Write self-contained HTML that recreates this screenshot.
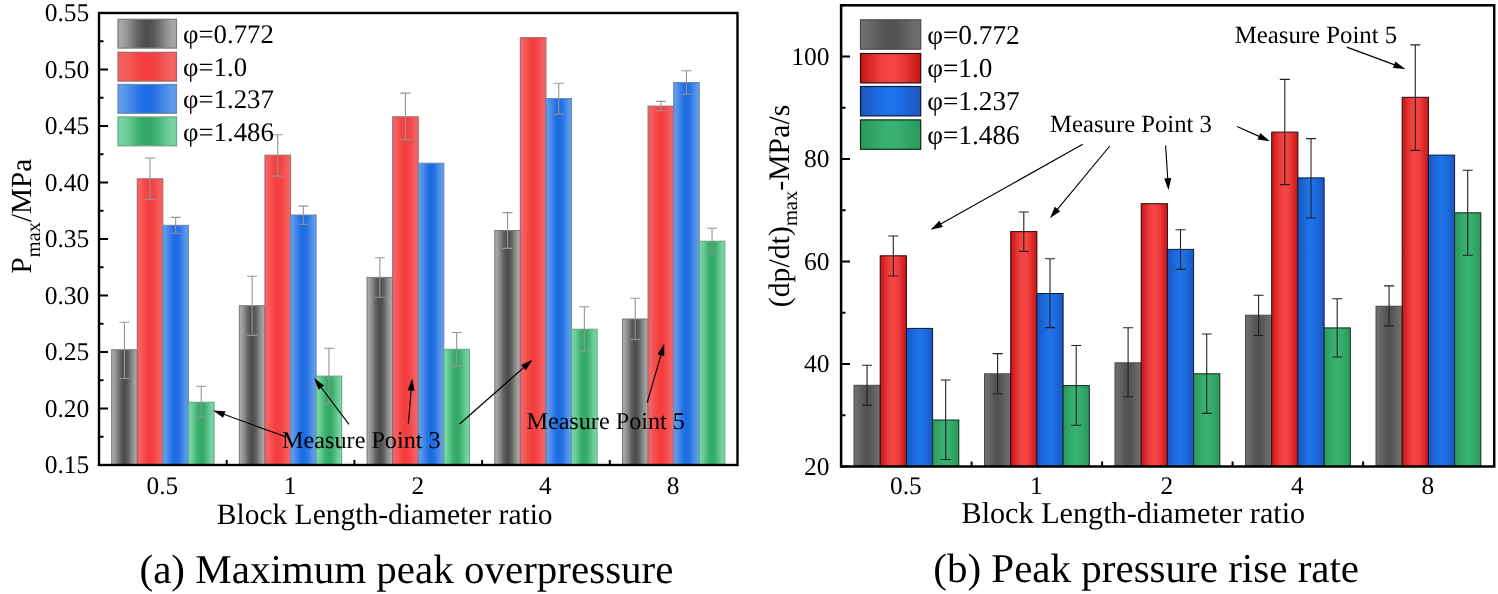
<!DOCTYPE html>
<html><head><meta charset="utf-8"><style>
html,body{margin:0;padding:0;background:#fff;}
body{width:1498px;height:594px;overflow:hidden;font-family:"Liberation Serif",serif;}
svg{display:block;will-change:transform;}
text{text-rendering:geometricPrecision;}
</style></head><body>
<svg width="1498" height="594" viewBox="0 0 1498 594">
<defs><linearGradient id="lg" x1="0" x2="1" y1="0" y2="0"><stop offset="0.000" stop-color="#a8a8a8"/><stop offset="0.050" stop-color="#a6a6a6"/><stop offset="0.100" stop-color="#9f9f9f"/><stop offset="0.150" stop-color="#959595"/><stop offset="0.200" stop-color="#898989"/><stop offset="0.250" stop-color="#7b7b7b"/><stop offset="0.300" stop-color="#6d6d6d"/><stop offset="0.350" stop-color="#616161"/><stop offset="0.400" stop-color="#575757"/><stop offset="0.450" stop-color="#505050"/><stop offset="0.500" stop-color="#4e4e4e"/><stop offset="0.550" stop-color="#505050"/><stop offset="0.600" stop-color="#575757"/><stop offset="0.650" stop-color="#616161"/><stop offset="0.700" stop-color="#6d6d6d"/><stop offset="0.750" stop-color="#7b7b7b"/><stop offset="0.800" stop-color="#898989"/><stop offset="0.850" stop-color="#959595"/><stop offset="0.900" stop-color="#9f9f9f"/><stop offset="0.950" stop-color="#a6a6a6"/><stop offset="1.000" stop-color="#a8a8a8"/></linearGradient><linearGradient id="lr" x1="0" x2="1" y1="0" y2="0"><stop offset="0.000" stop-color="#f56262"/><stop offset="0.050" stop-color="#f56161"/><stop offset="0.100" stop-color="#f55f5f"/><stop offset="0.150" stop-color="#f55b5b"/><stop offset="0.200" stop-color="#f55656"/><stop offset="0.250" stop-color="#f45050"/><stop offset="0.300" stop-color="#f44a4a"/><stop offset="0.350" stop-color="#f44545"/><stop offset="0.400" stop-color="#f44141"/><stop offset="0.450" stop-color="#f43f3f"/><stop offset="0.500" stop-color="#f43e3e"/><stop offset="0.550" stop-color="#f43f3f"/><stop offset="0.600" stop-color="#f44141"/><stop offset="0.650" stop-color="#f44545"/><stop offset="0.700" stop-color="#f44a4a"/><stop offset="0.750" stop-color="#f45050"/><stop offset="0.800" stop-color="#f55656"/><stop offset="0.850" stop-color="#f55b5b"/><stop offset="0.900" stop-color="#f55f5f"/><stop offset="0.950" stop-color="#f56161"/><stop offset="1.000" stop-color="#f56262"/></linearGradient><linearGradient id="lb" x1="0" x2="1" y1="0" y2="0"><stop offset="0.000" stop-color="#5e9cec"/><stop offset="0.050" stop-color="#5c9bec"/><stop offset="0.100" stop-color="#5897eb"/><stop offset="0.150" stop-color="#5092ea"/><stop offset="0.200" stop-color="#478be9"/><stop offset="0.250" stop-color="#3d84e7"/><stop offset="0.300" stop-color="#337ce5"/><stop offset="0.350" stop-color="#2a75e4"/><stop offset="0.400" stop-color="#2270e3"/><stop offset="0.450" stop-color="#1e6ce2"/><stop offset="0.500" stop-color="#1c6be2"/><stop offset="0.550" stop-color="#1e6ce2"/><stop offset="0.600" stop-color="#2270e3"/><stop offset="0.650" stop-color="#2a75e4"/><stop offset="0.700" stop-color="#337ce5"/><stop offset="0.750" stop-color="#3d84e7"/><stop offset="0.800" stop-color="#478be9"/><stop offset="0.850" stop-color="#5092ea"/><stop offset="0.900" stop-color="#5897eb"/><stop offset="0.950" stop-color="#5c9bec"/><stop offset="1.000" stop-color="#5e9cec"/></linearGradient><linearGradient id="lgr" x1="0" x2="1" y1="0" y2="0"><stop offset="0.000" stop-color="#78d6a4"/><stop offset="0.050" stop-color="#76d5a2"/><stop offset="0.100" stop-color="#71d29e"/><stop offset="0.150" stop-color="#6acd97"/><stop offset="0.200" stop-color="#60c68e"/><stop offset="0.250" stop-color="#56bf84"/><stop offset="0.300" stop-color="#4bb87b"/><stop offset="0.350" stop-color="#41b172"/><stop offset="0.400" stop-color="#3aac6b"/><stop offset="0.450" stop-color="#35a967"/><stop offset="0.500" stop-color="#33a865"/><stop offset="0.550" stop-color="#35a967"/><stop offset="0.600" stop-color="#3aac6b"/><stop offset="0.650" stop-color="#41b172"/><stop offset="0.700" stop-color="#4bb87b"/><stop offset="0.750" stop-color="#56bf84"/><stop offset="0.800" stop-color="#60c68e"/><stop offset="0.850" stop-color="#6acd97"/><stop offset="0.900" stop-color="#71d29e"/><stop offset="0.950" stop-color="#76d5a2"/><stop offset="1.000" stop-color="#78d6a4"/></linearGradient><linearGradient id="rg" x1="0" x2="1" y1="0" y2="0"><stop offset="0.000" stop-color="#6e6e6e"/><stop offset="0.050" stop-color="#6d6d6d"/><stop offset="0.100" stop-color="#6b6b6b"/><stop offset="0.150" stop-color="#686868"/><stop offset="0.200" stop-color="#646464"/><stop offset="0.250" stop-color="#606060"/><stop offset="0.300" stop-color="#5c5c5c"/><stop offset="0.350" stop-color="#585858"/><stop offset="0.400" stop-color="#555555"/><stop offset="0.450" stop-color="#535353"/><stop offset="0.500" stop-color="#525252"/><stop offset="0.550" stop-color="#535353"/><stop offset="0.600" stop-color="#555555"/><stop offset="0.650" stop-color="#585858"/><stop offset="0.700" stop-color="#5c5c5c"/><stop offset="0.750" stop-color="#606060"/><stop offset="0.800" stop-color="#646464"/><stop offset="0.850" stop-color="#686868"/><stop offset="0.900" stop-color="#6b6b6b"/><stop offset="0.950" stop-color="#6d6d6d"/><stop offset="1.000" stop-color="#6e6e6e"/></linearGradient><linearGradient id="rr" x1="0" x2="1" y1="0" y2="0"><stop offset="0.000" stop-color="#c81616"/><stop offset="0.050" stop-color="#cd1b1b"/><stop offset="0.100" stop-color="#d32121"/><stop offset="0.150" stop-color="#d92828"/><stop offset="0.200" stop-color="#e02e2e"/><stop offset="0.250" stop-color="#e63434"/><stop offset="0.300" stop-color="#eb3a3a"/><stop offset="0.350" stop-color="#ef3e3e"/><stop offset="0.400" stop-color="#f24141"/><stop offset="0.450" stop-color="#f44343"/><stop offset="0.500" stop-color="#f54444"/><stop offset="0.550" stop-color="#f44343"/><stop offset="0.600" stop-color="#f24141"/><stop offset="0.650" stop-color="#ef3e3e"/><stop offset="0.700" stop-color="#eb3a3a"/><stop offset="0.750" stop-color="#e63434"/><stop offset="0.800" stop-color="#e02e2e"/><stop offset="0.850" stop-color="#d92828"/><stop offset="0.900" stop-color="#d32121"/><stop offset="0.950" stop-color="#cd1b1b"/><stop offset="1.000" stop-color="#c81616"/></linearGradient><linearGradient id="rb" x1="0" x2="1" y1="0" y2="0"><stop offset="0.000" stop-color="#1a58c2"/><stop offset="0.050" stop-color="#1a5ac5"/><stop offset="0.100" stop-color="#1b5dc9"/><stop offset="0.150" stop-color="#1b61cf"/><stop offset="0.200" stop-color="#1b64d4"/><stop offset="0.250" stop-color="#1c68d9"/><stop offset="0.300" stop-color="#1c6bde"/><stop offset="0.350" stop-color="#1d6ee2"/><stop offset="0.400" stop-color="#1d70e5"/><stop offset="0.450" stop-color="#1d72e7"/><stop offset="0.500" stop-color="#1d72e8"/><stop offset="0.550" stop-color="#1d72e7"/><stop offset="0.600" stop-color="#1d70e5"/><stop offset="0.650" stop-color="#1d6ee2"/><stop offset="0.700" stop-color="#1c6bde"/><stop offset="0.750" stop-color="#1c68d9"/><stop offset="0.800" stop-color="#1b64d4"/><stop offset="0.850" stop-color="#1b61cf"/><stop offset="0.900" stop-color="#1b5dc9"/><stop offset="0.950" stop-color="#1a5ac5"/><stop offset="1.000" stop-color="#1a58c2"/></linearGradient><linearGradient id="rgr" x1="0" x2="1" y1="0" y2="0"><stop offset="0.000" stop-color="#2c9b5b"/><stop offset="0.050" stop-color="#2d9c5c"/><stop offset="0.100" stop-color="#2e9f5e"/><stop offset="0.150" stop-color="#2fa261"/><stop offset="0.200" stop-color="#31a564"/><stop offset="0.250" stop-color="#33a868"/><stop offset="0.300" stop-color="#35ab6b"/><stop offset="0.350" stop-color="#36ae6d"/><stop offset="0.400" stop-color="#37b06f"/><stop offset="0.450" stop-color="#38b271"/><stop offset="0.500" stop-color="#38b271"/><stop offset="0.550" stop-color="#38b271"/><stop offset="0.600" stop-color="#37b06f"/><stop offset="0.650" stop-color="#36ae6d"/><stop offset="0.700" stop-color="#35ab6b"/><stop offset="0.750" stop-color="#33a868"/><stop offset="0.800" stop-color="#31a564"/><stop offset="0.850" stop-color="#2fa261"/><stop offset="0.900" stop-color="#2e9f5e"/><stop offset="0.950" stop-color="#2d9c5c"/><stop offset="1.000" stop-color="#2c9b5b"/></linearGradient></defs>
<rect x="0" y="0" width="1498" height="594" fill="#fff"/>
<rect x="111.65" y="349.80" width="25.60" height="115.20" fill="url(#lg)" stroke="#7a7a7a" stroke-width="1"/><rect x="137.25" y="178.80" width="25.60" height="286.20" fill="url(#lr)" stroke="#9a6a6a" stroke-width="1"/><rect x="162.85" y="225.30" width="25.60" height="239.70" fill="url(#lb)" stroke="#6a86aa" stroke-width="1"/><rect x="188.45" y="402.20" width="25.60" height="62.80" fill="url(#lgr)" stroke="#6aa286" stroke-width="1"/><rect x="239.35" y="305.70" width="25.60" height="159.30" fill="url(#lg)" stroke="#7a7a7a" stroke-width="1"/><rect x="264.95" y="155.20" width="25.60" height="309.80" fill="url(#lr)" stroke="#9a6a6a" stroke-width="1"/><rect x="290.55" y="215.00" width="25.60" height="250.00" fill="url(#lb)" stroke="#6a86aa" stroke-width="1"/><rect x="316.15" y="376.10" width="25.60" height="88.90" fill="url(#lgr)" stroke="#6aa286" stroke-width="1"/><rect x="367.05" y="277.40" width="25.60" height="187.60" fill="url(#lg)" stroke="#7a7a7a" stroke-width="1"/><rect x="392.65" y="116.80" width="25.60" height="348.20" fill="url(#lr)" stroke="#9a6a6a" stroke-width="1"/><rect x="418.25" y="163.20" width="25.60" height="301.80" fill="url(#lb)" stroke="#6a86aa" stroke-width="1"/><rect x="443.85" y="349.30" width="25.60" height="115.70" fill="url(#lgr)" stroke="#6aa286" stroke-width="1"/><rect x="494.75" y="230.50" width="25.60" height="234.50" fill="url(#lg)" stroke="#7a7a7a" stroke-width="1"/><rect x="520.35" y="37.70" width="25.60" height="427.30" fill="url(#lr)" stroke="#9a6a6a" stroke-width="1"/><rect x="545.95" y="98.50" width="25.60" height="366.50" fill="url(#lb)" stroke="#6a86aa" stroke-width="1"/><rect x="571.55" y="329.20" width="25.60" height="135.80" fill="url(#lgr)" stroke="#6aa286" stroke-width="1"/><rect x="622.45" y="319.00" width="25.60" height="146.00" fill="url(#lg)" stroke="#7a7a7a" stroke-width="1"/><rect x="648.05" y="106.10" width="25.60" height="358.90" fill="url(#lr)" stroke="#9a6a6a" stroke-width="1"/><rect x="673.65" y="82.50" width="25.60" height="382.50" fill="url(#lb)" stroke="#6a86aa" stroke-width="1"/><rect x="699.25" y="241.20" width="25.60" height="223.80" fill="url(#lgr)" stroke="#6aa286" stroke-width="1"/>
<path d="M124.45 322.20V378.50M119.45 322.20H129.45M119.45 378.50H129.45" stroke="#959595" stroke-width="1.1" fill="none"/><path d="M150.05 158.00V199.40M145.05 158.00H155.05M145.05 199.40H155.05" stroke="#959595" stroke-width="1.1" fill="none"/><path d="M175.65 217.40V233.30M170.65 217.40H180.65M170.65 233.30H180.65" stroke="#959595" stroke-width="1.1" fill="none"/><path d="M201.25 386.30V417.00M196.25 386.30H206.25M196.25 417.00H206.25" stroke="#959595" stroke-width="1.1" fill="none"/><path d="M252.15 276.30V335.40M247.15 276.30H257.15M247.15 335.40H257.15" stroke="#959595" stroke-width="1.1" fill="none"/><path d="M277.75 134.80V176.10M272.75 134.80H282.75M272.75 176.10H282.75" stroke="#959595" stroke-width="1.1" fill="none"/><path d="M303.35 206.10V224.30M298.35 206.10H308.35M298.35 224.30H308.35" stroke="#959595" stroke-width="1.1" fill="none"/><path d="M328.95 348.30V403.50M323.95 348.30H333.95M323.95 403.50H333.95" stroke="#959595" stroke-width="1.1" fill="none"/><path d="M379.85 257.80V297.20M374.85 257.80H384.85M374.85 297.20H384.85" stroke="#959595" stroke-width="1.1" fill="none"/><path d="M405.45 93.10V139.60M400.45 93.10H410.45M400.45 139.60H410.45" stroke="#959595" stroke-width="1.1" fill="none"/><path d="M456.65 332.50V366.10M451.65 332.50H461.65M451.65 366.10H461.65" stroke="#959595" stroke-width="1.1" fill="none"/><path d="M507.55 212.60V248.40M502.55 212.60H512.55M502.55 248.40H512.55" stroke="#959595" stroke-width="1.1" fill="none"/><path d="M558.75 83.20V114.30M553.75 83.20H563.75M553.75 114.30H563.75" stroke="#959595" stroke-width="1.1" fill="none"/><path d="M584.35 306.70V351.70M579.35 306.70H589.35M579.35 351.70H589.35" stroke="#959595" stroke-width="1.1" fill="none"/><path d="M635.25 298.20V339.50M630.25 298.20H640.25M630.25 339.50H640.25" stroke="#959595" stroke-width="1.1" fill="none"/><path d="M660.85 101.40V110.80M655.85 101.40H665.85M655.85 110.80H665.85" stroke="#959595" stroke-width="1.1" fill="none"/><path d="M686.45 70.70V94.30M681.45 70.70H691.45M681.45 94.30H691.45" stroke="#959595" stroke-width="1.1" fill="none"/><path d="M712.05 228.30V254.20M707.05 228.30H717.05M707.05 254.20H717.05" stroke="#959595" stroke-width="1.1" fill="none"/>
<rect x="99" y="13" width="638.5" height="452" fill="none" stroke="#000" stroke-width="2.4"/>
<path d="M99 13.00h9M99 41.25h4.5M99 69.50h9M99 97.75h4.5M99 126.00h9M99 154.25h4.5M99 182.50h9M99 210.75h4.5M99 239.00h9M99 267.25h4.5M99 295.50h9M99 323.75h4.5M99 352.00h9M99 380.25h4.5M99 408.50h9M99 436.75h4.5M99 465.00h9M226.70 465v-5M354.40 465v-5M482.10 465v-5M609.80 465v-5" stroke="#000" stroke-width="2"/>
<text x="89.3" y="21.00" text-anchor="end" font-size="25.5" font-family="Liberation Serif, serif">0.55</text>
<text x="89.3" y="77.50" text-anchor="end" font-size="25.5" font-family="Liberation Serif, serif">0.50</text>
<text x="89.3" y="134.00" text-anchor="end" font-size="25.5" font-family="Liberation Serif, serif">0.45</text>
<text x="89.3" y="190.50" text-anchor="end" font-size="25.5" font-family="Liberation Serif, serif">0.40</text>
<text x="89.3" y="247.00" text-anchor="end" font-size="25.5" font-family="Liberation Serif, serif">0.35</text>
<text x="89.3" y="303.50" text-anchor="end" font-size="25.5" font-family="Liberation Serif, serif">0.30</text>
<text x="89.3" y="360.00" text-anchor="end" font-size="25.5" font-family="Liberation Serif, serif">0.25</text>
<text x="89.3" y="416.50" text-anchor="end" font-size="25.5" font-family="Liberation Serif, serif">0.20</text>
<text x="89.3" y="473.00" text-anchor="end" font-size="25.5" font-family="Liberation Serif, serif">0.15</text>
<text x="162.35" y="494.4" text-anchor="middle" font-size="25.3" font-family="Liberation Serif, serif">0.5</text>
<text x="290.05" y="494.4" text-anchor="middle" font-size="25.3" font-family="Liberation Serif, serif">1</text>
<text x="417.75" y="494.4" text-anchor="middle" font-size="25.3" font-family="Liberation Serif, serif">2</text>
<text x="545.45" y="494.4" text-anchor="middle" font-size="25.3" font-family="Liberation Serif, serif">4</text>
<text x="673.15" y="494.4" text-anchor="middle" font-size="25.3" font-family="Liberation Serif, serif">8</text>
<text x="384.7" y="523.6" text-anchor="middle" font-size="29.5" font-family="Liberation Serif, serif">Block Length-diameter ratio</text>
<text x="406.5" y="582.5" text-anchor="middle" font-size="41" font-family="Liberation Serif, serif">(a) Maximum peak overpressure</text>
<text transform="translate(31.3 273.4) rotate(-90)" font-size="29.2" font-family="Liberation Serif, serif">P<tspan font-size="20.4" dy="8.4">max</tspan><tspan dy="-8.4">/MPa</tspan></text>
<rect x="118" y="19.30" width="58.5" height="28.8" fill="url(#lg)" stroke="#7a7a7a" stroke-width="1.2"/>
<text x="183" y="43.00" font-size="26.8" font-family="Liberation Serif, serif">φ=0.772</text>
<rect x="118" y="52.30" width="58.5" height="28.8" fill="url(#lr)" stroke="#9a6a6a" stroke-width="1.2"/>
<text x="183" y="76.00" font-size="26.8" font-family="Liberation Serif, serif">φ=1.0</text>
<rect x="118" y="84.50" width="58.5" height="28.8" fill="url(#lb)" stroke="#6a86aa" stroke-width="1.2"/>
<text x="183" y="108.20" font-size="26.8" font-family="Liberation Serif, serif">φ=1.237</text>
<rect x="118" y="117.00" width="58.5" height="28.8" fill="url(#lgr)" stroke="#6aa286" stroke-width="1.2"/>
<text x="183" y="140.70" font-size="26.8" font-family="Liberation Serif, serif">φ=1.486</text>
<rect x="854.00" y="385.30" width="26.20" height="81.20" fill="url(#rg)" stroke="#4a4a4a" stroke-width="1"/><rect x="880.20" y="255.80" width="26.20" height="210.70" fill="url(#rr)" stroke="#2a0a0a" stroke-width="1"/><rect x="906.40" y="328.40" width="26.20" height="138.10" fill="url(#rb)" stroke="#0a1a3a" stroke-width="1"/><rect x="932.60" y="420.00" width="26.20" height="46.50" fill="url(#rgr)" stroke="#0a2a1a" stroke-width="1"/><rect x="984.50" y="373.80" width="26.20" height="92.70" fill="url(#rg)" stroke="#4a4a4a" stroke-width="1"/><rect x="1010.70" y="231.60" width="26.20" height="234.90" fill="url(#rr)" stroke="#2a0a0a" stroke-width="1"/><rect x="1036.90" y="293.50" width="26.20" height="173.00" fill="url(#rb)" stroke="#0a1a3a" stroke-width="1"/><rect x="1063.10" y="385.60" width="26.20" height="80.90" fill="url(#rgr)" stroke="#0a2a1a" stroke-width="1"/><rect x="1115.00" y="362.80" width="26.20" height="103.70" fill="url(#rg)" stroke="#4a4a4a" stroke-width="1"/><rect x="1141.20" y="203.70" width="26.20" height="262.80" fill="url(#rr)" stroke="#2a0a0a" stroke-width="1"/><rect x="1167.40" y="249.40" width="26.20" height="217.10" fill="url(#rb)" stroke="#0a1a3a" stroke-width="1"/><rect x="1193.60" y="373.80" width="26.20" height="92.70" fill="url(#rgr)" stroke="#0a2a1a" stroke-width="1"/><rect x="1245.50" y="315.20" width="26.20" height="151.30" fill="url(#rg)" stroke="#4a4a4a" stroke-width="1"/><rect x="1271.70" y="132.10" width="26.20" height="334.40" fill="url(#rr)" stroke="#2a0a0a" stroke-width="1"/><rect x="1297.90" y="177.90" width="26.20" height="288.60" fill="url(#rb)" stroke="#0a1a3a" stroke-width="1"/><rect x="1324.10" y="327.90" width="26.20" height="138.60" fill="url(#rgr)" stroke="#0a2a1a" stroke-width="1"/><rect x="1376.00" y="306.20" width="26.20" height="160.30" fill="url(#rg)" stroke="#4a4a4a" stroke-width="1"/><rect x="1402.20" y="97.30" width="26.20" height="369.20" fill="url(#rr)" stroke="#2a0a0a" stroke-width="1"/><rect x="1428.40" y="155.10" width="26.20" height="311.40" fill="url(#rb)" stroke="#0a1a3a" stroke-width="1"/><rect x="1454.60" y="212.80" width="26.20" height="253.70" fill="url(#rgr)" stroke="#0a2a1a" stroke-width="1"/>
<path d="M867.10 365.30V405.40M862.10 365.30H872.10M862.10 405.40H872.10" stroke="#222" stroke-width="1.1" fill="none"/><path d="M893.30 236.00V276.00M888.30 236.00H898.30M888.30 276.00H898.30" stroke="#222" stroke-width="1.1" fill="none"/><path d="M945.70 380.00V459.50M940.70 380.00H950.70M940.70 459.50H950.70" stroke="#222" stroke-width="1.1" fill="none"/><path d="M997.60 353.60V393.70M992.60 353.60H1002.60M992.60 393.70H1002.60" stroke="#222" stroke-width="1.1" fill="none"/><path d="M1023.80 212.00V251.40M1018.80 212.00H1028.80M1018.80 251.40H1028.80" stroke="#222" stroke-width="1.1" fill="none"/><path d="M1050.00 258.70V327.60M1045.00 258.70H1055.00M1045.00 327.60H1055.00" stroke="#222" stroke-width="1.1" fill="none"/><path d="M1076.20 345.50V425.20M1071.20 345.50H1081.20M1071.20 425.20H1081.20" stroke="#222" stroke-width="1.1" fill="none"/><path d="M1128.10 327.80V396.70M1123.10 327.80H1133.10M1123.10 396.70H1133.10" stroke="#222" stroke-width="1.1" fill="none"/><path d="M1180.50 229.80V269.40M1175.50 229.80H1185.50M1175.50 269.40H1185.50" stroke="#222" stroke-width="1.1" fill="none"/><path d="M1206.70 334.00V413.40M1201.70 334.00H1211.70M1201.70 413.40H1211.70" stroke="#222" stroke-width="1.1" fill="none"/><path d="M1258.60 295.20V335.50M1253.60 295.20H1263.60M1253.60 335.50H1263.60" stroke="#222" stroke-width="1.1" fill="none"/><path d="M1284.80 79.40V184.60M1279.80 79.40H1289.80M1279.80 184.60H1289.80" stroke="#222" stroke-width="1.1" fill="none"/><path d="M1311.00 138.60V218.00M1306.00 138.60H1316.00M1306.00 218.00H1316.00" stroke="#222" stroke-width="1.1" fill="none"/><path d="M1337.20 298.80V357.00M1332.20 298.80H1342.20M1332.20 357.00H1342.20" stroke="#222" stroke-width="1.1" fill="none"/><path d="M1389.10 285.90V325.90M1384.10 285.90H1394.10M1384.10 325.90H1394.10" stroke="#222" stroke-width="1.1" fill="none"/><path d="M1415.30 44.90V150.40M1410.30 44.90H1420.30M1410.30 150.40H1420.30" stroke="#222" stroke-width="1.1" fill="none"/><path d="M1467.70 170.30V255.20M1462.70 170.30H1472.70M1462.70 255.20H1472.70" stroke="#222" stroke-width="1.1" fill="none"/>
<rect x="841.1" y="5.3" width="653.1" height="461.2" fill="none" stroke="#000" stroke-width="2.5"/>
<path d="M841 466.50h9M841 415.25h4.5M841 364.00h9M841 312.75h4.5M841 261.50h9M841 210.25h4.5M841 159.00h9M841 107.75h4.5M841 56.50h9M841 5.25h4.5M971.60 466.5v-5M1102.10 466.5v-5M1232.60 466.5v-5M1363.10 466.5v-5" stroke="#000" stroke-width="2"/>
<text x="829.4" y="474.50" text-anchor="end" font-size="25.5" font-family="Liberation Serif, serif">20</text>
<text x="829.4" y="372.00" text-anchor="end" font-size="25.5" font-family="Liberation Serif, serif">40</text>
<text x="829.4" y="269.50" text-anchor="end" font-size="25.5" font-family="Liberation Serif, serif">60</text>
<text x="829.4" y="167.00" text-anchor="end" font-size="25.5" font-family="Liberation Serif, serif">80</text>
<text x="829.4" y="64.50" text-anchor="end" font-size="25.5" font-family="Liberation Serif, serif">100</text>
<text x="905.90" y="494.4" text-anchor="middle" font-size="25.3" font-family="Liberation Serif, serif">0.5</text>
<text x="1036.40" y="494.4" text-anchor="middle" font-size="25.3" font-family="Liberation Serif, serif">1</text>
<text x="1166.90" y="494.4" text-anchor="middle" font-size="25.3" font-family="Liberation Serif, serif">2</text>
<text x="1297.40" y="494.4" text-anchor="middle" font-size="25.3" font-family="Liberation Serif, serif">4</text>
<text x="1427.90" y="494.4" text-anchor="middle" font-size="25.3" font-family="Liberation Serif, serif">8</text>
<text x="1133.35" y="523.4" text-anchor="middle" font-size="30.2" font-family="Liberation Serif, serif">Block Length-diameter ratio</text>
<text x="1146.2" y="581.8" text-anchor="middle" font-size="41" font-family="Liberation Serif, serif">(b) Peak pressure rise rate</text>
<text transform="translate(789.2 307.2) rotate(-90)" font-size="29.8" font-family="Liberation Serif, serif">(dp/dt)<tspan font-size="20.5" dy="8">max</tspan><tspan dy="-8">-MPa/s</tspan></text>
<rect x="860.5" y="19.80" width="60.2" height="29.4" fill="url(#rg)" stroke="#4a4a4a" stroke-width="1.2"/>
<text x="927.2" y="43.50" font-size="27.3" font-family="Liberation Serif, serif">φ=0.772</text>
<rect x="860.5" y="53.50" width="60.2" height="29.4" fill="url(#rr)" stroke="#2a0a0a" stroke-width="1.2"/>
<text x="927.2" y="77.20" font-size="27.3" font-family="Liberation Serif, serif">φ=1.0</text>
<rect x="860.5" y="86.50" width="60.2" height="29.4" fill="url(#rb)" stroke="#0a1a3a" stroke-width="1.2"/>
<text x="927.2" y="110.20" font-size="27.3" font-family="Liberation Serif, serif">φ=1.237</text>
<rect x="860.5" y="119.90" width="60.2" height="29.4" fill="url(#rgr)" stroke="#0a2a1a" stroke-width="1.2"/>
<text x="927.2" y="143.60" font-size="27.3" font-family="Liberation Serif, serif">φ=1.486</text>
<line x1="286.30" y1="437.00" x2="222.40" y2="413.81" stroke="#000" stroke-width="1.15"/><polygon points="213.00,410.40 225.47,411.20 223.09,417.78" fill="#000"/>
<line x1="349.00" y1="424.30" x2="320.12" y2="385.99" stroke="#000" stroke-width="1.15"/><polygon points="314.10,378.00 324.12,385.48 318.53,389.69" fill="#000"/>
<line x1="408.30" y1="424.30" x2="411.27" y2="388.57" stroke="#000" stroke-width="1.15"/><polygon points="412.10,378.60 414.59,390.85 407.62,390.27" fill="#000"/>
<line x1="459.60" y1="424.00" x2="525.00" y2="366.41" stroke="#000" stroke-width="1.15"/><polygon points="532.50,359.80 525.81,370.36 521.18,365.10" fill="#000"/>
<line x1="647.20" y1="402.60" x2="661.43" y2="353.31" stroke="#000" stroke-width="1.15"/><polygon points="664.20,343.70 664.24,356.20 657.51,354.26" fill="#000"/>
<line x1="1082.70" y1="144.30" x2="939.32" y2="224.80" stroke="#000" stroke-width="1.15"/><polygon points="930.60,229.70 939.35,220.77 942.78,226.88" fill="#000"/>
<line x1="1109.80" y1="146.00" x2="1056.28" y2="210.60" stroke="#000" stroke-width="1.15"/><polygon points="1049.90,218.30 1054.86,206.83 1060.25,211.29" fill="#000"/>
<line x1="1165.60" y1="145.50" x2="1167.85" y2="180.32" stroke="#000" stroke-width="1.15"/><polygon points="1168.50,190.30 1164.23,178.55 1171.22,178.10" fill="#000"/>
<line x1="1237.10" y1="126.50" x2="1260.77" y2="137.11" stroke="#000" stroke-width="1.15"/><polygon points="1269.90,141.20 1257.52,139.49 1260.38,133.10" fill="#000"/>
<line x1="1346.80" y1="47.10" x2="1396.03" y2="65.41" stroke="#000" stroke-width="1.15"/><polygon points="1405.40,68.90 1392.93,68.00 1395.37,61.44" fill="#000"/>
<text x="282.1" y="447.7" font-size="24.2" font-family="Liberation Serif, serif">Measure Point 3</text>
<text x="526.4" y="428.5" font-size="24.2" font-family="Liberation Serif, serif">Measure Point 5</text>
<text x="1050.1" y="131.8" font-size="24.7" font-family="Liberation Serif, serif">Measure Point 3</text>
<text x="1234.7" y="42.7" font-size="24.8" font-family="Liberation Serif, serif">Measure Point 5</text>
</svg>
</body></html>
